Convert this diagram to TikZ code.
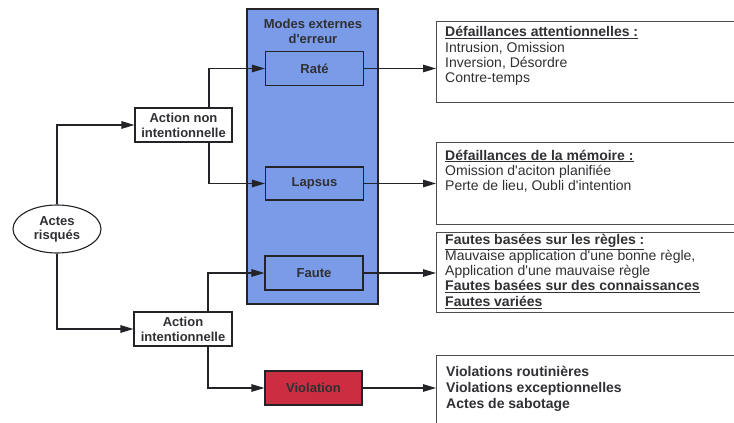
\documentclass[tikz,border=0pt]{standalone}
\usepackage{fontspec}
\setmainfont{Liberation Sans}
\usetikzlibrary{arrows.meta,shapes.geometric}
\definecolor{bluefill}{RGB}{122,155,232}
\definecolor{redfill}{RGB}{204,45,65}
\definecolor{txt}{RGB}{48,48,52}
\definecolor{edge}{RGB}{35,35,40}
\newcommand{\ap}{\textquotesingle}
\begin{document}
\begin{tikzpicture}[x=1pt,y=-1pt,
  box/.style={draw=edge, line width=1.1pt, minimum width=98pt, minimum height=34pt, inner sep=0pt,
    font=\bfseries\fontsize{13}{15}\selectfont, text=txt, align=center},
  arr/.style={line width=1.2pt, draw=edge, -{Triangle[length=13pt,width=7.5pt]}},
  infobox/.style={draw=black!70, line width=1.1pt, anchor=north west, inner sep=0pt, minimum width=330pt},
  infotext/.style={anchor=base west, align=left, inner sep=0pt, text=txt, font=\fontsize{14}{15.4}\selectfont}
]
\clip (0,0) rectangle (734,423);
\fill[white] (0,0) rectangle (734,423);

% blue container
\node[draw=edge, line width=1.1pt, fill=bluefill, minimum width=131pt, minimum height=295pt, inner sep=0pt] (modes) at (312.5,156.5) {};
\node[font=\bfseries\fontsize{13}{15}\selectfont, text=txt, align=center] (modesT) at (313,31) {Modes externes\\d\ap erreur};

\node[box, fill=bluefill] (rate) at (314.5,68.5) {Raté};
\node[box, fill=bluefill, minimum height=33pt] (lapsus) at (314.5,183.5) {Lapsus};
\node[box, fill=bluefill] (faute) at (314,273) {Faute};
\node[box, fill=redfill, minimum width=97pt] (viol) at (313.5,388) {Violation};

\node[box, fill=white, minimum width=97pt] (ani) at (183.5,125) {Action non\\intentionnelle};
\node[box, fill=white] (ai) at (183,329) {Action\\intentionnelle};

\node[draw=edge, line width=1.1pt, ellipse, minimum width=88pt, minimum height=48pt, inner sep=0pt, fill=white,
  font=\bfseries\fontsize{13}{14}\selectfont, text=txt, align=center] (actes) at (57,229) {Actes\\risqués};

% right info boxes
\node[infobox, minimum height=81pt] (b1) at (436,21) {};
\node[infobox, minimum height=82pt] (b2) at (436,142) {};
\node[infobox, minimum height=80pt] (b3) at (436,231.5) {};
\node[infobox, minimum height=90pt] (b4) at (436,355) {};

% texts (base anchor = baseline of the last line)
\node[infotext] (t1) at (445,82.9) {\textbf{\underline{Défaillances attentionnelles :}}\\Intrusion, Omission\\Inversion, Désordre\\Contre-temps};
\node[infotext, font=\fontsize{14}{15}\selectfont] (t2) at (445,190) {\textbf{\underline{Défaillances de la mémoire :}}\\Omission d\ap aciton planifiée\\Perte de lieu, Oubli d\ap intention};
\node[infotext] (t3) at (445,306.3) {\textbf{\underline{Fautes basées sur les règles :}}\\Mauvaise application d\ap une bonne règle,\\Application d\ap une mauvaise règle\\\textbf{\underline{Fautes basées sur des connaissances}}\\\textbf{\underline{Fautes variées}}};
\node[infotext, font=\bfseries\fontsize{14}{15.8}\selectfont] (t4) at (446,408.3) {Violations routinières\\Violations exceptionnelles\\Actes de sabotage};

% connectors
\draw[arr] (actes.north) |- (ani.west);
\draw[arr] (actes.south) |- (ai.west);
\draw[arr] ([xshift=25.5pt]ani.north) |- (rate.west);
\draw[arr] ([xshift=25.5pt]ani.south) |- (lapsus.west);
\draw[arr] ([xshift=25pt]ai.north) |- (faute.west);
\draw[arr] ([xshift=25pt]ai.south) |- (viol.west);

\draw[arr] (rate.east) -- (rate.east -| b1.west);
\draw[arr] (lapsus.east) -- (lapsus.east -| b2.west);
\draw[arr] (faute.east) -- (faute.east -| b3.west);
\draw[arr] (viol.east) -- (viol.east -| b4.west);
\end{tikzpicture}
\end{document}
